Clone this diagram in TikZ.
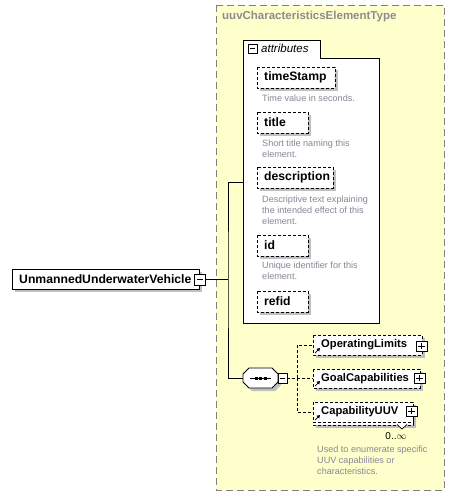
\documentclass[tikz,border=0pt]{standalone}
\usepackage{fontspec}
\setmainfont{Liberation Sans}
\begin{document}
\begin{tikzpicture}[x=1pt,y=-1pt,
  lbl/.style={font=\fontsize{12.2}{14}\selectfont\bfseries, text=black, anchor=west, inner sep=0pt},
  clbl/.style={lbl, font=\fontsize{11.2}{13}\selectfont\bfseries},
  note/.style={font=\fontsize{9.1}{11}\selectfont, text=notegray, anchor=north west, align=left, inner sep=0pt},
  dbox/.style={draw=black, fill=white, dash pattern=on 3pt off 2pt, line width=0.8pt},
  sbox/.style={draw=black, fill=white, line width=0.8pt},
  conn/.style={draw=black, line width=0.8pt},
  dconn/.style={draw=black, line width=0.8pt, dash pattern=on 3pt off 2pt},
  exbox/.style={draw=black, fill=white, line width=0.7pt}
]
\definecolor{bgyellow}{RGB}{255,255,204}
\definecolor{bordergray}{RGB}{128,128,128}
\definecolor{titlegray}{RGB}{140,140,140}
\definecolor{notegray}{RGB}{135,135,150}
\definecolor{shadowgray}{RGB}{192,192,192}
\useasboundingbox[fill=white] (0,0) rectangle (454,497);

% outer complex type box
\draw[fill=bgyellow, draw=bordergray, line width=0.9pt, dash pattern=on 7pt off 4pt] (216,5) rectangle (444,490);
\node[font=\fontsize{11.5}{13}\selectfont\bfseries, text=titlegray, anchor=west, inner sep=0pt] (ttl) at (222,17) {uuvCharacteristicsElementType};

% attributes box
\draw[sbox] (243,58) rectangle (379,323);
\draw[sbox] (243,58) -- (243,40) -- (320,40) -- (320,58);
\fill[white] (243.5,57) rectangle (319.5,59.5);
\coordinate (attrL) at (243,182);
\draw[exbox] (248,44) rectangle (257,53);
\draw[line width=0.7pt] (250,48.5) -- (255,48.5);
\node[font=\fontsize{11.5}{13}\selectfont\itshape, anchor=west, inner sep=0pt] (attrt) at (261,48.5) {attributes};

% attribute items
\newcommand{\attritem}[5]{%
  \fill[shadowgray] (#2+3,#3+3) rectangle (#4+3,#3+24);
  \draw[dbox] (#2,#3) rectangle (#4,#3+21);
  \node[lbl] (#1) at (#2+7,#3+10.5) {#5};
}
\attritem{ts}{257}{67}{335}{timeStamp}
\node[note] (tsn) at (262,95) {Time value in seconds.};
\attritem{ti}{257}{112}{308}{title}
\node[note] (tin) at (262,140) {Short title naming this\\element.};
\attritem{de}{257}{167}{333}{description}
\node[note] (den) at (262,196) {Descriptive text explaining\\the intended effect of this\\element.};
\attritem{idd}{257}{235}{308}{id}
\node[note] (idn) at (262,262) {Unique identifier for this\\element.};
\attritem{rf}{257}{291}{308}{refid}

% root element
\fill[shadowgray] (15,272) rectangle (202,292);
\draw[sbox] (12,269) rectangle (199,289);
\node[lbl] (root) at (19,279.5) {UnmannedUnderwaterVehicle};
\draw[exbox] (194,274) rectangle (205,285);
\draw[line width=0.7pt] (196.5,279.5) -- (202.5,279.5);
\coordinate (rootR) at (205,279.5);
\coordinate (jn) at (228,279.5);

% sequence compositor
\fill[shadowgray] (252,371) -- (275,371) -- (281,377) -- (281,385) -- (275,391) -- (252,391) -- (246,385) -- (246,377) -- cycle;
\draw[sbox] (249,368) -- (272,368) -- (278,374) -- (278,382) -- (272,388) -- (249,388) -- (243,382) -- (243,374) -- cycle;
\coordinate (seqL) at (243,378);
\draw[line width=0.8pt] (250,378) -- (271,378);
\foreach \xx in {256,260.5,265} \fill (\xx-1.5,376.5) rectangle (\xx+1.5,379.5);
\draw[exbox] (278,373) rectangle (287,383);
\draw[line width=0.7pt] (280,378) -- (285,378);
\coordinate (seqR) at (287,378);

% connectors main
\draw[conn] (rootR) -- (jn);
\draw[conn] (attrL) -| (jn) |- (seqL);

% child elements
\newcommand{\arrowmark}[2]{%
  \draw[line width=0.7pt] (#1,#2) -- (#1+4,#2-4);
  \fill (#1+5,#2-5) -- (#1+1.5,#2-4.2) -- (#1+4.2,#2-1.5) -- cycle;
}
% OperatingLimits
\fill[shadowgray] (316,338) rectangle (425,358);
\draw[dbox] (313,335) rectangle (422,355);
\arrowmark{315}{353}
\node[clbl] (ol) at (321,345) {OperatingLimits};
\draw[exbox] (416,341) rectangle (427,351);
\draw[line width=0.6pt] (418,346) -- (425,346) (421.5,343) -- (421.5,349);
% GoalCapabilities
\fill[shadowgray] (316,372) rectangle (423,391);
\draw[dbox] (313,369) rectangle (420,388);
\arrowmark{315}{386}
\node[clbl] (gc) at (321,378.5) {GoalCapabilities};
\draw[exbox] (414,373) rectangle (425,383);
\draw[line width=0.6pt] (416,378) -- (423,378) (419.5,375) -- (419.5,381);
% CapabilityUUV (multiple)
\fill[shadowgray] (316,405) rectangle (416,428);
\draw[dbox] (313,405) rectangle (413,425);
\fill[white] (313.4,402.4) rectangle (412.6,421.6);
\draw[dbox] (313,402) rectangle (413,422);
\draw[line width=0.7pt, fill=white] (397,424.5) -- (402,429) -- (407,424.5);
\arrowmark{315}{420}
\node[clbl] (cu) at (321,412) {CapabilityUUV};
\draw[exbox] (406,406) rectangle (417,416);
\draw[line width=0.6pt] (408,411) -- (415,411) (411.5,408) -- (411.5,414);
\node[font=\fontsize{10}{11}\selectfont, anchor=center, inner sep=0pt] (mult) at (396,436) {0..$\infty$};
\node[note] (cun) at (317,446) {Used to enumerate specific\\UUV capabilities or\\characteristics.};

% dashed connectors from sequence
\coordinate (sj) at (297,378);
\draw[dconn] (seqR) -- (sj);
\draw[dconn] (sj) |- (313,345);
\draw[dconn] (sj) -- (313,378);
\draw[dconn] (sj) |- (313,412);
\end{tikzpicture}
\end{document}
